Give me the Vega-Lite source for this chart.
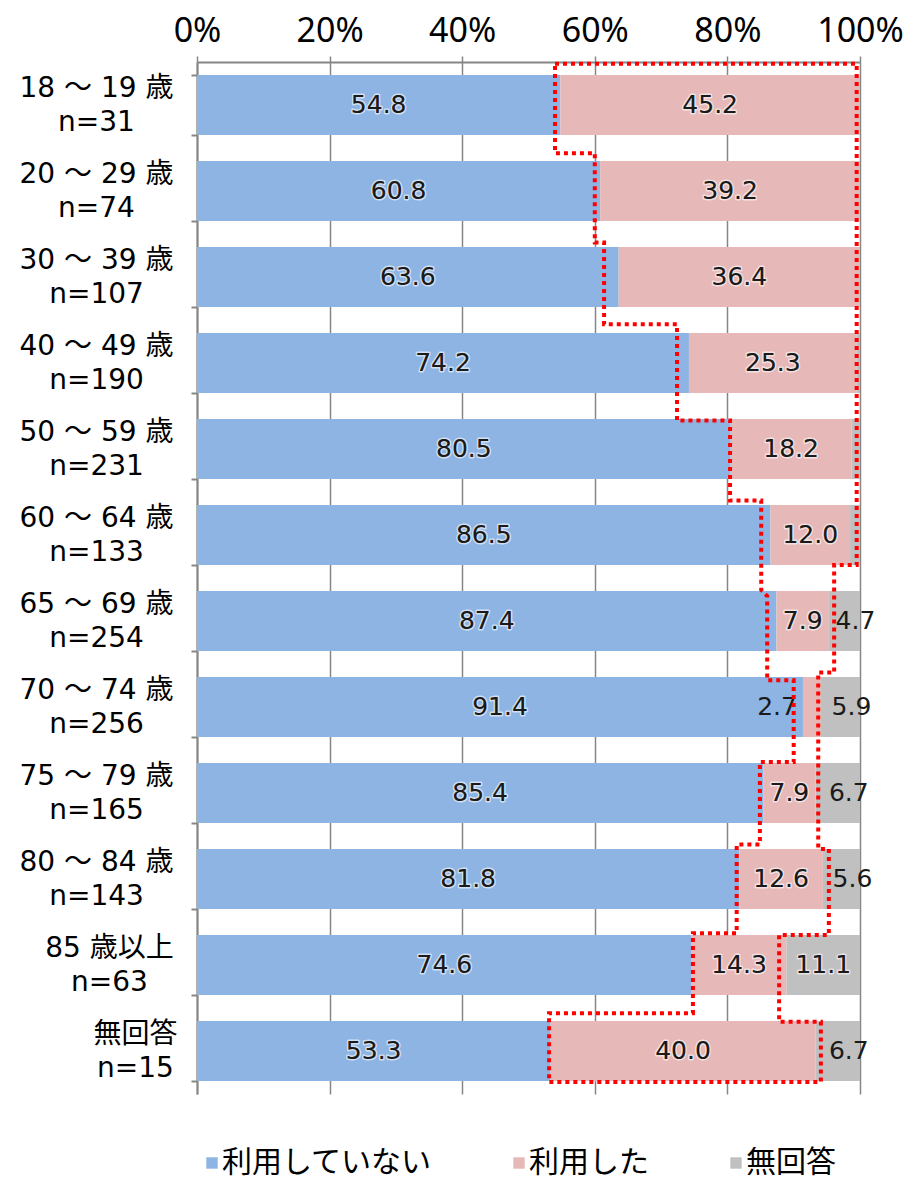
{
  "$schema": "https://vega.github.io/schema/vega-lite/v6.json",
  "width": 663,
  "height": 1032,
  "autosize": {"type": "none"},
  "padding": {"left": 197, "top": 62, "right": 51, "bottom": 96},
  "background": "white",
  "config": {"view": {"stroke": null}},
  "datasets": {
    "bars": [
      {"cat": "18 ～ 19 歳|n=31", "type": "利用していない", "k": 1, "value": 54.8},
      {"cat": "18 ～ 19 歳|n=31", "type": "利用した", "k": 2, "value": 45.2},
      {"cat": "20 ～ 29 歳|n=74", "type": "利用していない", "k": 1, "value": 60.8},
      {"cat": "20 ～ 29 歳|n=74", "type": "利用した", "k": 2, "value": 39.2},
      {"cat": "30 ～ 39 歳|n=107", "type": "利用していない", "k": 1, "value": 63.6},
      {"cat": "30 ～ 39 歳|n=107", "type": "利用した", "k": 2, "value": 36.4},
      {"cat": "40 ～ 49 歳|n=190", "type": "利用していない", "k": 1, "value": 74.2},
      {"cat": "40 ～ 49 歳|n=190", "type": "利用した", "k": 2, "value": 25.3},
      {"cat": "40 ～ 49 歳|n=190", "type": "無回答", "k": 3, "value": 0.5},
      {"cat": "50 ～ 59 歳|n=231", "type": "利用していない", "k": 1, "value": 80.5},
      {"cat": "50 ～ 59 歳|n=231", "type": "利用した", "k": 2, "value": 18.2},
      {"cat": "50 ～ 59 歳|n=231", "type": "無回答", "k": 3, "value": 1.3},
      {"cat": "60 ～ 64 歳|n=133", "type": "利用していない", "k": 1, "value": 86.5},
      {"cat": "60 ～ 64 歳|n=133", "type": "利用した", "k": 2, "value": 12.0},
      {"cat": "60 ～ 64 歳|n=133", "type": "無回答", "k": 3, "value": 1.5},
      {"cat": "65 ～ 69 歳|n=254", "type": "利用していない", "k": 1, "value": 87.4},
      {"cat": "65 ～ 69 歳|n=254", "type": "利用した", "k": 2, "value": 7.9},
      {"cat": "65 ～ 69 歳|n=254", "type": "無回答", "k": 3, "value": 4.7},
      {"cat": "70 ～ 74 歳|n=256", "type": "利用していない", "k": 1, "value": 91.4},
      {"cat": "70 ～ 74 歳|n=256", "type": "利用した", "k": 2, "value": 2.7},
      {"cat": "70 ～ 74 歳|n=256", "type": "無回答", "k": 3, "value": 5.9},
      {"cat": "75 ～ 79 歳|n=165", "type": "利用していない", "k": 1, "value": 85.4},
      {"cat": "75 ～ 79 歳|n=165", "type": "利用した", "k": 2, "value": 7.9},
      {"cat": "75 ～ 79 歳|n=165", "type": "無回答", "k": 3, "value": 6.7},
      {"cat": "80 ～ 84 歳|n=143", "type": "利用していない", "k": 1, "value": 81.8},
      {"cat": "80 ～ 84 歳|n=143", "type": "利用した", "k": 2, "value": 12.6},
      {"cat": "80 ～ 84 歳|n=143", "type": "無回答", "k": 3, "value": 5.6},
      {"cat": "85 歳以上|n=63", "type": "利用していない", "k": 1, "value": 74.6},
      {"cat": "85 歳以上|n=63", "type": "利用した", "k": 2, "value": 14.3},
      {"cat": "85 歳以上|n=63", "type": "無回答", "k": 3, "value": 11.1},
      {"cat": "無回答|n=15", "type": "利用していない", "k": 1, "value": 53.3},
      {"cat": "無回答|n=15", "type": "利用した", "k": 2, "value": 40.0},
      {"cat": "無回答|n=15", "type": "無回答", "k": 3, "value": 6.7}
    ],
    "outline": [
      {"i": 1, "px": 54.0, "ry": 0.02},
      {"i": 2, "px": 99.5, "ry": 0.02},
      {"i": 3, "px": 99.5, "ry": 5.85},
      {"i": 4, "px": 96.1, "ry": 5.85},
      {"i": 5, "px": 96.1, "ry": 7.10},
      {"i": 6, "px": 93.7, "ry": 7.10},
      {"i": 7, "px": 93.7, "ry": 9.15},
      {"i": 8, "px": 95.3, "ry": 9.15},
      {"i": 9, "px": 95.3, "ry": 10.15},
      {"i": 10, "px": 87.8, "ry": 10.15},
      {"i": 11, "px": 87.8, "ry": 11.16},
      {"i": 12, "px": 94.1, "ry": 11.16},
      {"i": 13, "px": 94.1, "ry": 11.86},
      {"i": 14, "px": 53.1, "ry": 11.86},
      {"i": 15, "px": 53.1, "ry": 11.06},
      {"i": 16, "px": 74.8, "ry": 11.06},
      {"i": 17, "px": 74.8, "ry": 10.13},
      {"i": 18, "px": 81.4, "ry": 10.13},
      {"i": 19, "px": 81.4, "ry": 9.10},
      {"i": 20, "px": 84.9, "ry": 9.10},
      {"i": 21, "px": 84.9, "ry": 8.14},
      {"i": 22, "px": 90.0, "ry": 8.14},
      {"i": 23, "px": 90.0, "ry": 7.19},
      {"i": 24, "px": 86.0, "ry": 7.19},
      {"i": 25, "px": 86.0, "ry": 6.21},
      {"i": 26, "px": 85.1, "ry": 6.14},
      {"i": 27, "px": 85.1, "ry": 5.10},
      {"i": 28, "px": 80.4, "ry": 5.10},
      {"i": 29, "px": 80.4, "ry": 4.17},
      {"i": 30, "px": 72.4, "ry": 4.17},
      {"i": 31, "px": 72.4, "ry": 3.05},
      {"i": 32, "px": 61.4, "ry": 3.05},
      {"i": 33, "px": 61.4, "ry": 2.10},
      {"i": 34, "px": 60.0, "ry": 2.10},
      {"i": 35, "px": 60.0, "ry": 1.06},
      {"i": 36, "px": 54.0, "ry": 1.06},
      {"i": 37, "px": 54.0, "ry": 0.02}
    ]
  },
  "layer": [
    {
      "data": {"name": "bars"},
      "layer": [
        {
          "mark": {"type": "bar"},
          "encoding": {
            "y": {
              "field": "cat", "type": "nominal", "sort": null,
              "scale": {"paddingInner": 0.3, "paddingOuter": 0.15},
              "axis": {
                "orient": "left", "title": null,
                "domainColor": "#868686", "domainWidth": 2,
                "tickColor": "#868686", "tickWidth": 2, "tickSize": 6, "tickBand": "extent",
                "labelExpr": "split(datum.label, '|')",
                "labelFont": "DejaVu Sans, Noto Sans CJK JP",
                "labelFontSize": 28, "labelColor": "#000000",
                "labelLineHeight": 34, "labelAlign": "center", "labelBaseline": "middle",
                "labelOffset": -17,
                "labelPadding": {
                  "condition": [
                    {"test": "datum.value === '無回答|n=15'", "value": 56},
                    {"test": "datum.value === '85 歳以上|n=63'", "value": 82}
                  ],
                  "value": 95
                }
              }
            },
            "x": {
              "field": "value", "type": "quantitative", "stack": "zero",
              "scale": {"domain": [0, 100], "nice": false},
              "axis": {
                "orient": "top", "title": null, "values": [0, 20, 40, 60, 80, 100],
                "labelExpr": "datum.value + '%'",
                "grid": true, "gridColor": "#868686", "gridWidth": 1.5,
                "domainColor": "#868686", "domainWidth": 2,
                "tickColor": "#868686", "tickWidth": 1.5, "tickSize": 6,
                "labelFont": "Noto Sans", "labelFontSize": 34, "labelColor": "#000000",
                "labelPadding": 8, "labelFlush": false
              }
            },
            "color": {
              "field": "type", "type": "nominal",
              "scale": {"domain": ["利用していない", "利用した", "無回答"], "range": ["#8EB4E3", "#E6B9B8", "#C0C0C0"]},
              "legend": {
                "title": null, "orient": "bottom", "direction": "horizontal",
                "symbolType": "square", "symbolSize": 130, "symbolStrokeWidth": 0,
                "labelFont": "Noto Sans CJK JP", "labelFontSize": 30, "labelColor": "#000000",
                "labelLimit": 0, "labelOffset": -5, "columnPadding": 72, "offset": 54
              }
            },
            "order": {"field": "k", "type": "quantitative"}
          }
        },
        {
          "transform": [
            {"stack": "value", "groupby": ["cat"], "sort": [{"field": "k"}], "as": ["x0", "x1"]},
            {"filter": "datum.value >= 3 && !(datum.type === '無回答' && datum.value < 10)"},
            {"calculate": "(datum.x0 + datum.x1) / 2", "as": "xm"}
          ],
          "mark": {"type": "text", "font": "DejaVu Sans", "fontSize": 25, "color": "#1a1a1a", "stroke": "#ffffff", "strokeWidth": 3, "strokeOpacity": 0.6, "strokeJoin": "round", "baseline": "middle", "align": "center"},
          "encoding": {
            "y": {"field": "cat", "type": "nominal", "sort": null},
            "x": {"field": "xm", "type": "quantitative"},
            "text": {"field": "value", "type": "quantitative", "format": ".1f"}
          }
        },
        {
          "transform": [
            {"stack": "value", "groupby": ["cat"], "sort": [{"field": "k"}], "as": ["x0", "x1"]},
            {"filter": "datum.value >= 3 && !(datum.type === '無回答' && datum.value < 10)"},
            {"calculate": "(datum.x0 + datum.x1) / 2", "as": "xm"}
          ],
          "mark": {"type": "text", "font": "DejaVu Sans", "fontSize": 25, "color": "#1a1a1a", "baseline": "middle", "align": "center"},
          "encoding": {
            "y": {"field": "cat", "type": "nominal", "sort": null},
            "x": {"field": "xm", "type": "quantitative"},
            "text": {"field": "value", "type": "quantitative", "format": ".1f"}
          }
        },
        {
          "transform": [
            {"stack": "value", "groupby": ["cat"], "sort": [{"field": "k"}], "as": ["x0", "x1"]},
            {"filter": "datum.type === '無回答' && datum.value >= 2 && datum.value < 10"},
            {"calculate": "(datum.x0 + datum.x1) / 2", "as": "xm"}
          ],
          "mark": {"type": "text", "font": "DejaVu Sans", "fontSize": 25, "color": "#1a1a1a", "baseline": "middle", "align": "center", "dx": 11},
          "encoding": {
            "y": {"field": "cat", "type": "nominal", "sort": null},
            "x": {"field": "xm", "type": "quantitative"},
            "text": {"field": "value", "type": "quantitative", "format": ".1f"}
          }
        },
        {
          "transform": [
            {"stack": "value", "groupby": ["cat"], "sort": [{"field": "k"}], "as": ["x0", "x1"]},
            {"filter": "datum.value >= 2 && datum.value < 3"}
          ],
          "mark": {"type": "text", "font": "DejaVu Sans", "fontSize": 25, "color": "#1a1a1a", "baseline": "middle", "align": "right", "dx": -6},
          "encoding": {
            "y": {"field": "cat", "type": "nominal", "sort": null},
            "x": {"field": "x0", "type": "quantitative"},
            "text": {"field": "value", "type": "quantitative", "format": ".1f"}
          }
        }
      ]
    },
    {
      "data": {"name": "outline"},
      "mark": {"type": "line", "color": "#FF0000", "strokeWidth": 4, "strokeDash": [4, 4], "strokeCap": "butt", "strokeJoin": "miter", "clip": false},
      "encoding": {
        "x": {"field": "px", "type": "quantitative", "scale": {"domain": [0, 100], "nice": false}},
        "y": {"field": "ry", "type": "quantitative", "scale": {"domain": [0, 12], "reverse": true, "nice": false, "zero": false}, "axis": null},
        "order": {"field": "i", "type": "quantitative"}
      }
    }
  ],
  "resolve": {"scale": {"y": "independent"}}
}
